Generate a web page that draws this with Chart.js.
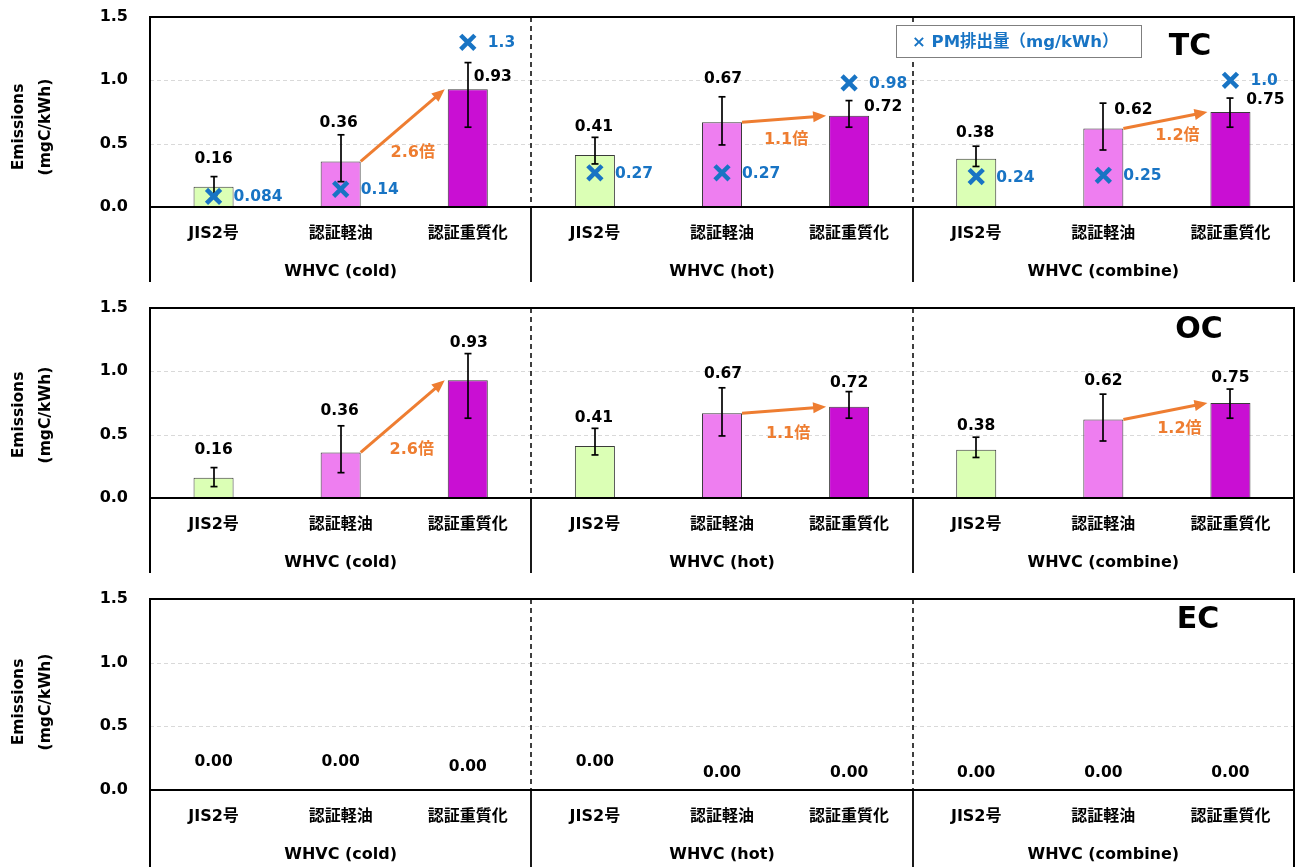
<!DOCTYPE html>
<html>
<head>
<meta charset="utf-8">
<script src="https://cdn.jsdelivr.net/npm/chart.js@4/dist/chart.umd.min.js"></script>
<style>
  html, body { margin: 0; padding: 0; background: #fff; }
  #wrap { position: relative; width: 1303px; height: 867px; overflow: hidden; }
  #wrap canvas { position: absolute; left: 0; }
</style>
</head>
<body>
<div id="wrap">
  <canvas id="tc" width="1303" height="291" style="top:0px"></canvas>
  <canvas id="oc" width="1303" height="291" style="top:291px"></canvas>
  <canvas id="ec" width="1303" height="285" style="top:582px"></canvas>
</div>
<script>
// ---- data -------------------------------------------------------------
const fuels = ['JIS2号', '認証軽油', '認証重質化'];
const cycles = ['WHVC (cold)', 'WHVC (hot)', 'WHVC (combine)'];
const categories = cycles.flatMap(() => fuels);

const tcValues = [0.16, 0.36, 0.93, 0.41, 0.67, 0.72, 0.38, 0.62, 0.75];
const tcLow    = [0.09, 0.20, 0.63, 0.34, 0.49, 0.63, 0.32, 0.45, 0.63];
const tcHigh   = [0.24, 0.57, 1.14, 0.55, 0.87, 0.84, 0.48, 0.82, 0.86];

const ocValues = [0.16, 0.36, 0.93, 0.41, 0.67, 0.72, 0.38, 0.62, 0.75];
const ocLow    = [0.09, 0.20, 0.63, 0.34, 0.49, 0.63, 0.32, 0.45, 0.63];
const ocHigh   = [0.24, 0.57, 1.14, 0.55, 0.87, 0.84, 0.48, 0.82, 0.86];

const ecValues = [0, 0, 0, 0, 0, 0, 0, 0, 0];

const pmValues = [0.084, 0.14, 1.3, 0.27, 0.27, 0.98, 0.24, 0.25, 1.0];

// ratio arrows: from bar index -> to bar index
const arrowPairs = [[1, 2], [4, 5], [7, 8]];
const ratioLabels = ['2.6倍', '1.1倍', '1.2倍'];

const yTicks = [0, 0.5, 1.0, 1.5];

// ---- styling ----------------------------------------------------------
const FONT = "'DejaVu Sans', 'Noto Sans CJK JP', sans-serif";
const BLUE = '#1874c4';
const ORANGE = '#ee7d31';
const FILLS = ['#dbffb5', '#ee7ef0', '#c90fd3'];

function font(size) { return 'bold ' + size + 'px ' + FONT; }

function seg(ctx, x1, y1, x2, y2) {
  ctx.beginPath(); ctx.moveTo(x1, y1); ctx.lineTo(x2, y2); ctx.stroke();
}

function groupEdge(x, g) {
  const n = fuels.length;
  return (x.getPixelForValue(g * n - 1) + x.getPixelForValue(g * n)) / 2;
}

const decor = {
  id: 'decor',
  beforeDatasetsDraw(chart, args, o) {
    const { ctx, chartArea: a, scales: { x, y } } = chart;
    ctx.save();
    ctx.strokeStyle = '#d9d9d9';
    ctx.lineWidth = 1;
    ctx.setLineDash([4, 3]);
    y.ticks.forEach(t => {
      if (t.value > y.min && t.value < y.max) {
        const py = Math.round(y.getPixelForValue(t.value)) + 0.5;
        seg(ctx, a.left, py, a.right, py);
      }
    });
    ctx.strokeStyle = '#000';
    ctx.lineWidth = 1.5;
    ctx.setLineDash([5, 4]);
    for (let g = 1; g < cycles.length; g++) {
      const px = Math.round(groupEdge(x, g));
      seg(ctx, px, a.top, px, a.bottom);
    }
    ctx.restore();
  },
  afterDatasetDraw(chart, args, o) {
    if (args.index !== 0 || !o.low) return;
    const { ctx, scales: { y } } = chart;
    const bars = chart.getDatasetMeta(0).data;
    ctx.save();
    ctx.strokeStyle = '#000';
    ctx.lineWidth = 1.7;
    bars.forEach((b, i) => {
      const px = Math.round(b.x);
      const lo = y.getPixelForValue(o.low[i]);
      const hi = y.getPixelForValue(o.high[i]);
      seg(ctx, px, lo, px, hi);
      seg(ctx, px - 3.5, lo, px + 3.5, lo);
      seg(ctx, px - 3.5, hi, px + 3.5, hi);
    });
    ctx.restore();
  },
  afterDatasetsDraw(chart, args, o) {
    const { ctx, chartArea: a, scales: { x, y } } = chart;
    const bars = chart.getDatasetMeta(0).data;
    const values = chart.data.datasets[0].data;
    ctx.save();

    // frame and separators in the category band
    ctx.strokeStyle = '#000';
    ctx.lineWidth = 2;
    ctx.setLineDash([]);
    const bottomEnd = a.bottom + o.drop;
    seg(ctx, a.left - 1, a.top, a.right + 1, a.top);
    seg(ctx, a.left, a.top, a.left, bottomEnd);
    seg(ctx, a.right, a.top, a.right, bottomEnd);
    seg(ctx, a.left, a.bottom, a.right, a.bottom);
    ctx.lineWidth = 1.8;
    for (let g = 1; g < cycles.length; g++) {
      const px = Math.round(groupEdge(x, g));
      seg(ctx, px, a.bottom, px, bottomEnd);
    }

    // cycle names under each group
    ctx.fillStyle = '#000';
    ctx.font = font(16);
    ctx.textAlign = 'center';
    ctx.textBaseline = 'middle';
    cycles.forEach((c, g) => {
      const l = g === 0 ? a.left : groupEdge(x, g);
      const r = g === cycles.length - 1 ? a.right : groupEdge(x, g + 1);
      ctx.fillText(c, (l + r) / 2, a.bottom + 65);
    });

    // value labels on bars
    ctx.font = font(15.5);
    bars.forEach((b, i) => {
      const [dx, dy] = o.labelShift[i];
      ctx.fillText(values[i].toFixed(2), b.x + dx, b.y + dy);
    });

    // PM labels beside the markers
    if (chart.data.datasets.length > 1) {
      const pts = chart.getDatasetMeta(1).data;
      const pm = chart.data.datasets[1].data;
      ctx.fillStyle = BLUE;
      ctx.textAlign = 'left';
      pts.forEach((p, i) => ctx.fillText(pm[i].toPrecision(2), p.x + 20, p.y + 1));
    }

    // ratio arrows
    if (o.arrows) {
      arrowPairs.forEach(([f, t], k) => {
        const b1 = bars[f], b2 = bars[t];
        const x1 = b1.x + b1.width / 2, y1 = b1.y;
        const x2 = b2.x - b2.width / 2 - 3, y2 = b2.y;
        const ang = Math.atan2(y2 - y1, x2 - x1);
        const head = 13, hw = 5.5;
        const bx = x2 - head * Math.cos(ang), by = y2 - head * Math.sin(ang);
        ctx.strokeStyle = ORANGE;
        ctx.fillStyle = ORANGE;
        ctx.lineWidth = 3;
        seg(ctx, x1, y1, bx + Math.cos(ang), by + Math.sin(ang));
        ctx.beginPath();
        ctx.moveTo(x2, y2);
        ctx.lineTo(bx - hw * Math.sin(ang), by + hw * Math.cos(ang));
        ctx.lineTo(bx + hw * Math.sin(ang), by - hw * Math.cos(ang));
        ctx.closePath();
        ctx.fill();
        const [tx, ty] = o.arrowTextShift[k];
        ctx.textAlign = 'center';
        ctx.font = font(16);
        ctx.fillText(ratioLabels[k], (x1 + x2) / 2 + tx, (y1 + y2) / 2 + ty);
      });
    }

    // legend box for the PM markers
    if (o.legend) {
      ctx.fillStyle = '#fff';
      ctx.fillRect(896, 25, 246, 33);
      ctx.strokeStyle = '#7f7f7f';
      ctx.lineWidth = 1;
      ctx.strokeRect(896.5, 25.5, 245, 32);
      ctx.fillStyle = BLUE;
      ctx.font = font(16.5);
      ctx.textAlign = 'left';
      ctx.fillText('× PM排出量（mg/kWh）', 912, 43);
    }

    // panel title
    ctx.fillStyle = '#000';
    ctx.font = font(30);
    ctx.textAlign = 'center';
    ctx.fillText(o.title, o.titleAt[0], o.titleAt[1]);

    // y-axis title
    ctx.font = font(15.5);
    ctx.save();
    ctx.translate(0, a.bottom + o.yTitleShift);
    ctx.rotate(-Math.PI / 2);
    ctx.fillText('Emissions', 0, 19);
    ctx.fillText('(mgC/kWh)', 0, 46);
    ctx.restore();

    ctx.restore();
  }
};

// ---- panels -----------------------------------------------------------
const panels = [
  {
    id: 'tc', title: 'TC', values: tcValues, low: tcLow, high: tcHigh, pm: pmValues,
    baseline: 207, drop: 75, legend: true, arrows: true, titleAt: [1190, 47], yTitleShift: -80,
    labelShift: [[0, -28], [-2, -38], [25, -12], [-1, -28], [1, -43], [34, -9], [-1, -26], [30, -18], [35, -12]],
    arrowTextShift: [[10, 28], [2, 21], [12, 16]]
  },
  {
    id: 'oc', title: 'OC', values: ocValues, low: ocLow, high: ocHigh,
    baseline: 207, drop: 75, legend: false, arrows: true, titleAt: [1199, 39], yTitleShift: -83,
    labelShift: [[0, -28], [-1, -41], [1, -37], [-1, -28], [1, -39], [0, -24], [0, -24], [0, -38], [0, -25]],
    arrowTextShift: [[9, 34], [4, 24], [14, 18]]
  },
  {
    id: 'ec', title: 'EC', values: ecValues,
    baseline: 208, drop: 77, legend: false, arrows: false, titleAt: [1198, 38], yTitleShift: -88,
    labelShift: [[0, -28], [0, -28], [0, -23], [0, -28], [0, -17], [0, -17], [0, -17], [0, -17], [0, -17]],
    arrowTextShift: []
  }
];

const PLOT_TOP = 17;

panels.forEach(p => {
  const canvas = document.getElementById(p.id);
  const datasets = [{
    type: 'bar',
    data: p.values,
    backgroundColor: categories.map((_, i) => FILLS[i % fuels.length]),
    borderColor: '#3a3a3a',
    borderWidth: 1,
    barPercentage: 0.315,
    categoryPercentage: 1,
    order: 1
  }];
  if (p.pm) {
    datasets.push({
      type: 'line',
      data: p.pm,
      showLine: false,
      pointStyle: 'crossRot',
      pointRadius: 10,
      pointHoverRadius: 10,
      pointBorderColor: BLUE,
      pointBackgroundColor: BLUE,
      pointBorderWidth: 4.5,
      clip: false,
      order: 0
    });
  }
  new Chart(canvas, {
    type: 'bar',
    data: { labels: categories, datasets },
    options: {
      responsive: false,
      animation: false,
      devicePixelRatio: 1,
      events: [],
      layout: { autoPadding: false, padding: { left: 0, right: 9, top: PLOT_TOP, bottom: 0 } },
      plugins: {
        legend: { display: false },
        tooltip: { enabled: false },
        decor: {
          title: p.title, low: p.low, high: p.high, drop: p.drop, legend: p.legend,
          arrows: p.arrows, titleAt: p.titleAt, yTitleShift: p.yTitleShift,
          labelShift: p.labelShift, arrowTextShift: p.arrowTextShift
        }
      },
      scales: {
        x: {
          grid: { display: false, drawTicks: false },
          border: { display: false },
          ticks: { font: { family: FONT, size: 16, weight: 'bold' }, color: '#000', padding: 17, autoSkip: false, maxRotation: 0 },
          afterFit: s => {
            s.height = canvas.height - p.baseline;
            s.paddingLeft = 0; s.paddingRight = 0; s.paddingTop = 0; s.paddingBottom = 0;
          }
        },
        y: {
          min: yTicks[0],
          max: yTicks[yTicks.length - 1],
          afterBuildTicks: s => { s.ticks = yTicks.map(v => ({ value: v })); },
          grid: { display: false, drawTicks: false },
          border: { display: false },
          ticks: { font: { family: FONT, size: 16, weight: 'bold' }, color: '#000', padding: 22, callback: v => Number(v).toFixed(1) },
          afterFit: s => {
            s.width = 150;
            s.paddingLeft = 0; s.paddingRight = 0; s.paddingTop = 0; s.paddingBottom = 0;
          }
        }
      }
    },
    plugins: [decor]
  });
});
</script>
</body>
</html>
